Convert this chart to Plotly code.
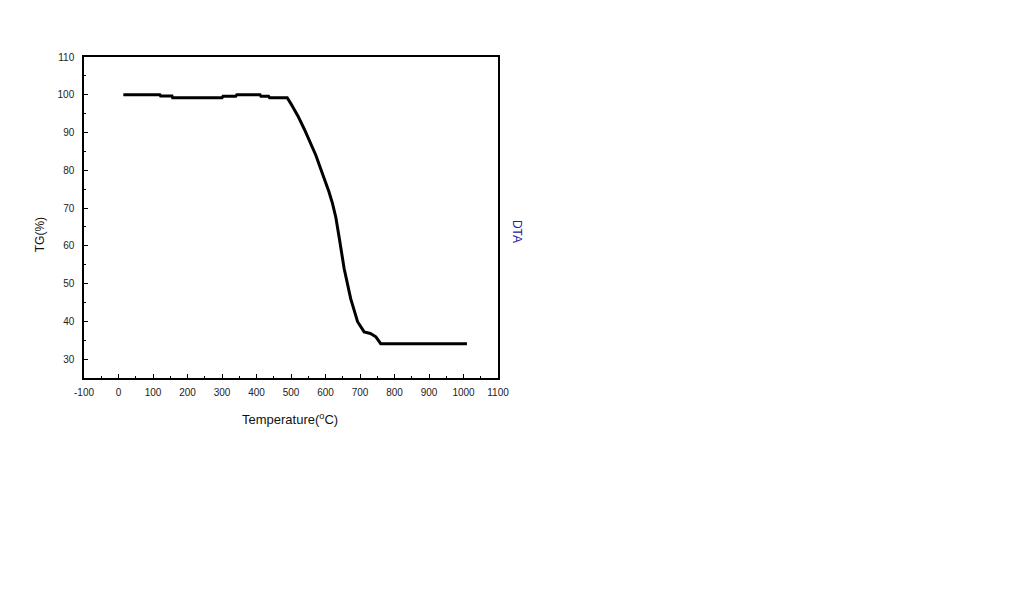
import plotly.graph_objects as go

# TG curve
temperature = [14, 120, 122, 155, 157, 300, 303, 340, 343, 410, 413, 435, 438, 489,
               500, 520, 538, 557, 572, 586, 600, 610, 620, 630, 640, 654, 673, 685,
               693, 712, 730, 746, 760, 1010]
tg = [100, 100, 99.7, 99.7, 99.2, 99.2, 99.6, 99.6, 100, 100, 99.6, 99.6, 99.2, 99.2,
      97.6, 94.4, 91, 87.3, 84, 80.4, 77, 74.3, 71.3, 67.5, 62, 54, 46, 42,
      39.9, 37.2, 36.8, 35.9, 34.1, 34.1]

x_ticks = [-100, 0, 100, 200, 300, 400, 500, 600, 700, 800, 900, 1000, 1100]
y_ticks = [30, 40, 50, 60, 70, 80, 90, 100, 110]

FONT = "Liberation Sans, Arial, sans-serif"

fig = go.Figure()
fig.add_trace(go.Scatter(
    x=temperature, y=tg, mode="lines",
    line=dict(color="black", width=3),
    showlegend=False,
))

axis_common = dict(
    showline=True, linecolor="black", linewidth=1.5, mirror=True,
    showgrid=False, zeroline=False,
    ticks="inside", ticklen=4, tickwidth=1, tickcolor="black",
    tickfont=dict(family=FONT, size=10, color="#222222"),
)

fig.update_xaxes(
    range=[-100, 1100], tickvals=x_ticks, ticktext=[str(v) for v in x_ticks],
    minor=dict(dtick=50, ticks="inside", ticklen=2, tickcolor="black"),
    ticklabelstandoff=4,
    **axis_common,
)
fig.update_yaxes(
    range=[25, 110], tickvals=y_ticks, ticktext=[str(v) for v in y_ticks],
    minor=dict(dtick=5, ticks="inside", ticklen=2, tickcolor="black"),
    ticklabelstandoff=6,
    **axis_common,
)

# axis titles placed by hand
fig.add_annotation(text="TG(%)", xref="paper", yref="paper", x=-0.106, y=0.445,
                   xanchor="center", yanchor="middle",
                   textangle=-90, showarrow=False,
                   font=dict(family=FONT, size=12, color="#111111"))
fig.add_annotation(text="Temperature(<sup>o</sup>C)", xref="paper", yref="paper",
                   x=0.498, y=-0.128, xanchor="center", yanchor="middle",
                   showarrow=False,
                   font=dict(family=FONT, size=13, color="#111111"))
fig.add_annotation(text="DTA", xref="paper", yref="paper", x=1.046, y=0.458,
                   xanchor="center", yanchor="middle",
                   textangle=90, showarrow=False,
                   font=dict(family=FONT, size=12, color="#2222aa"))

fig.update_layout(
    width=1024, height=613,
    margin=dict(l=76, r=534, t=49, b=243),
    plot_bgcolor="white", paper_bgcolor="white",
)

fig.write_html("out.html")
